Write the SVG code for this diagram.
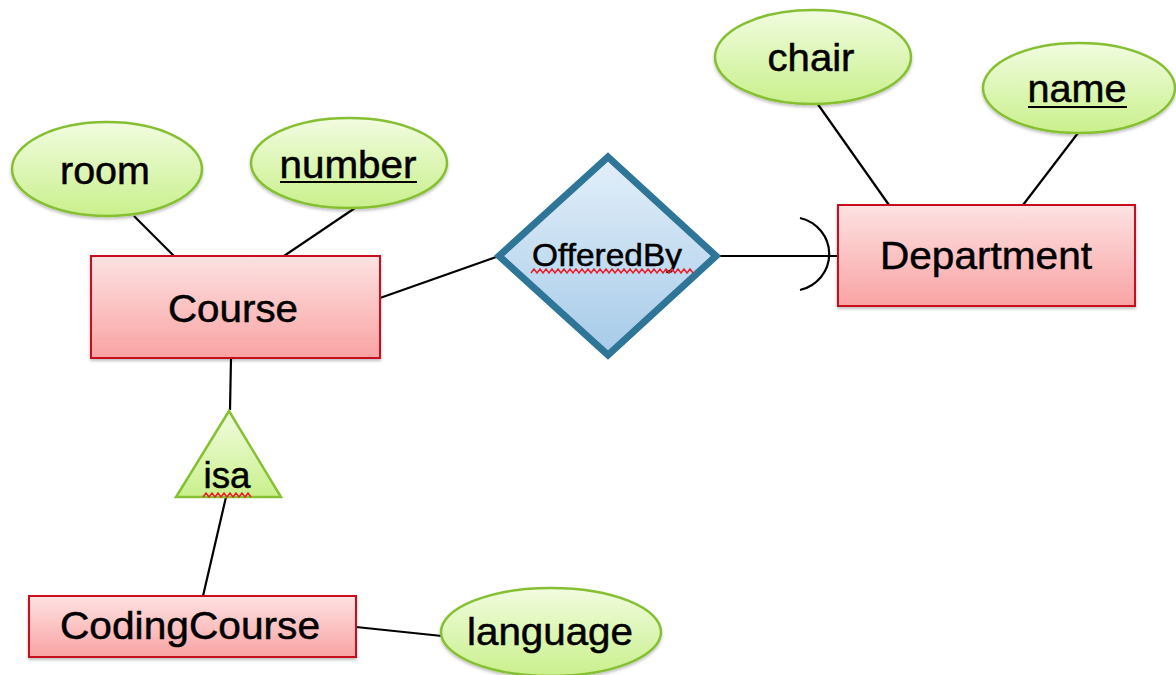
<svg xmlns="http://www.w3.org/2000/svg" width="1176" height="675" viewBox="0 0 1176 675">
<defs>
<linearGradient id="gRed" x1="0" y1="0" x2="0" y2="1"><stop offset="0" stop-color="#fde2e2"/><stop offset="1" stop-color="#f9a3a3"/></linearGradient>
<linearGradient id="gGreen" x1="0" y1="0" x2="0" y2="1"><stop offset="0" stop-color="#f1fce0"/><stop offset="1" stop-color="#c9f08c"/></linearGradient>
<linearGradient id="gBlue" x1="0" y1="0" x2="0" y2="1"><stop offset="0" stop-color="#e3effa"/><stop offset="1" stop-color="#a6cbe8"/></linearGradient>
<filter id="sh" x="-10%" y="-10%" width="130%" height="140%"><feDropShadow dx="0" dy="2" stdDeviation="1.5" flood-color="#000" flood-opacity="0.25"/></filter>
</defs>
<style>
.ent{fill:url(#gRed);stroke:#c8101a;stroke-width:2;filter:url(#sh)}
.att{fill:url(#gGreen);stroke:#86c033;stroke-width:2.5;filter:url(#sh)}
.rel{fill:url(#gBlue);stroke:#2e7597;stroke-width:7;stroke-linejoin:miter}
.isa{fill:url(#gGreen);stroke:#86c033;stroke-width:2.5}
.t{font-family:"Liberation Sans",Arial,Helvetica,sans-serif;fill:#000;stroke:#000;stroke-width:0.5;text-anchor:middle}
.ln{stroke:#000;stroke-width:2.2;fill:none}
.ul{stroke:#000;stroke-width:2}
.sq{stroke:#e8202a;stroke-width:1.5;fill:none}
</style>
<rect width="1176" height="675" fill="#fff"/>
<g id="connectors">
<line class="ln" x1="134" y1="216" x2="174" y2="256"/>
<line class="ln" x1="355" y1="208" x2="284" y2="256"/>
<line class="ln" x1="380" y1="298" x2="499" y2="256"/>
<line class="ln" x1="716" y1="256" x2="838" y2="256"/>
<path class="ln" d="M800 218 A38 37 0 0 1 800 290"/>
<line class="ln" x1="817" y1="103" x2="889" y2="205"/>
<line class="ln" x1="1078" y1="133" x2="1023" y2="205"/>
<line class="ln" x1="231" y1="358" x2="230" y2="410"/>
<line class="ln" x1="226" y1="497" x2="203" y2="596"/>
<line class="ln" x1="356" y1="627" x2="442" y2="636"/>
</g>
<g id="room"><ellipse class="att" cx="107" cy="169" rx="95" ry="47"/><text class="t" x="105" y="184" font-size="38" textLength="90" lengthAdjust="spacingAndGlyphs">room</text></g>
<g id="number"><ellipse class="att" cx="349" cy="163" rx="98" ry="45"/><text class="t" x="348" y="178" font-size="38" textLength="137" lengthAdjust="spacingAndGlyphs">number</text><line class="ul" x1="280" y1="182" x2="417" y2="182"/></g>
<g id="Course"><rect class="ent" x="91" y="256" width="289" height="102"/><text class="t" x="233" y="322" font-size="38" textLength="130" lengthAdjust="spacingAndGlyphs">Course</text></g>
<g id="OfferedBy"><polygon class="rel" points="608,157 716,256 608,355 499,256"/><text class="t" x="607" y="266" font-size="32" textLength="150" lengthAdjust="spacingAndGlyphs">OfferedBy</text><path class="sq" d="M531 273 l3 -4 l3 4 l3 -4 l3 4 l3 -4 l3 4 l3 -4 l3 4 l3 -4 l3 4 l3 -4 l3 4 l3 -4 l3 4 l3 -4 l3 4 l3 -4 l3 4 l3 -4 l3 4 l3 -4 l3 4 l3 -4 l3 4 l3 -4 l3 4 l3 -4 l3 4 l3 -4 l3 4 l3 -4 l3 4 l3 -4 l3 4 l3 -4 l3 4 l3 -4 l3 4 l3 -4 l3 4 l3 -4 l3 4 l3 -4 l3 4 l3 -4 l3 4 l3 -4 l3 4 l3 -4 l3 4 l3 -4 l3 4 l3 -4 l3 4"/></g>
<g id="chair"><ellipse class="att" cx="813" cy="57" rx="98" ry="47"/><text class="t" x="811" y="71" font-size="38" textLength="87" lengthAdjust="spacingAndGlyphs">chair</text></g>
<g id="name"><ellipse class="att" cx="1079" cy="88" rx="96" ry="45"/><text class="t" x="1077" y="102" font-size="38" textLength="99" lengthAdjust="spacingAndGlyphs">name</text><line class="ul" x1="1028" y1="107" x2="1127" y2="107"/></g>
<g id="Department"><rect class="ent" x="838" y="205" width="297" height="101"/><text class="t" x="986" y="269" font-size="38" textLength="212" lengthAdjust="spacingAndGlyphs">Department</text></g>
<g id="isa"><polygon class="isa" points="229,411 281,497 176,497"/><text class="t" x="227" y="488" font-size="36" textLength="47" lengthAdjust="spacingAndGlyphs">isa</text><path class="sq" d="M203 497 l3 -4 l3 4 l3 -4 l3 4 l3 -4 l3 4 l3 -4 l3 4 l3 -4 l3 4 l3 -4 l3 4 l3 -4 l3 4 l3 -4 l3 4"/></g>
<g id="CodingCourse"><rect class="ent" x="29" y="596" width="327" height="61"/><text class="t" x="190" y="639" font-size="38" textLength="260" lengthAdjust="spacingAndGlyphs">CodingCourse</text></g>
<g id="language"><ellipse class="att" cx="551" cy="632" rx="110" ry="44"/><text class="t" x="550" y="645" font-size="38" textLength="166" lengthAdjust="spacingAndGlyphs">language</text></g>
</svg>
